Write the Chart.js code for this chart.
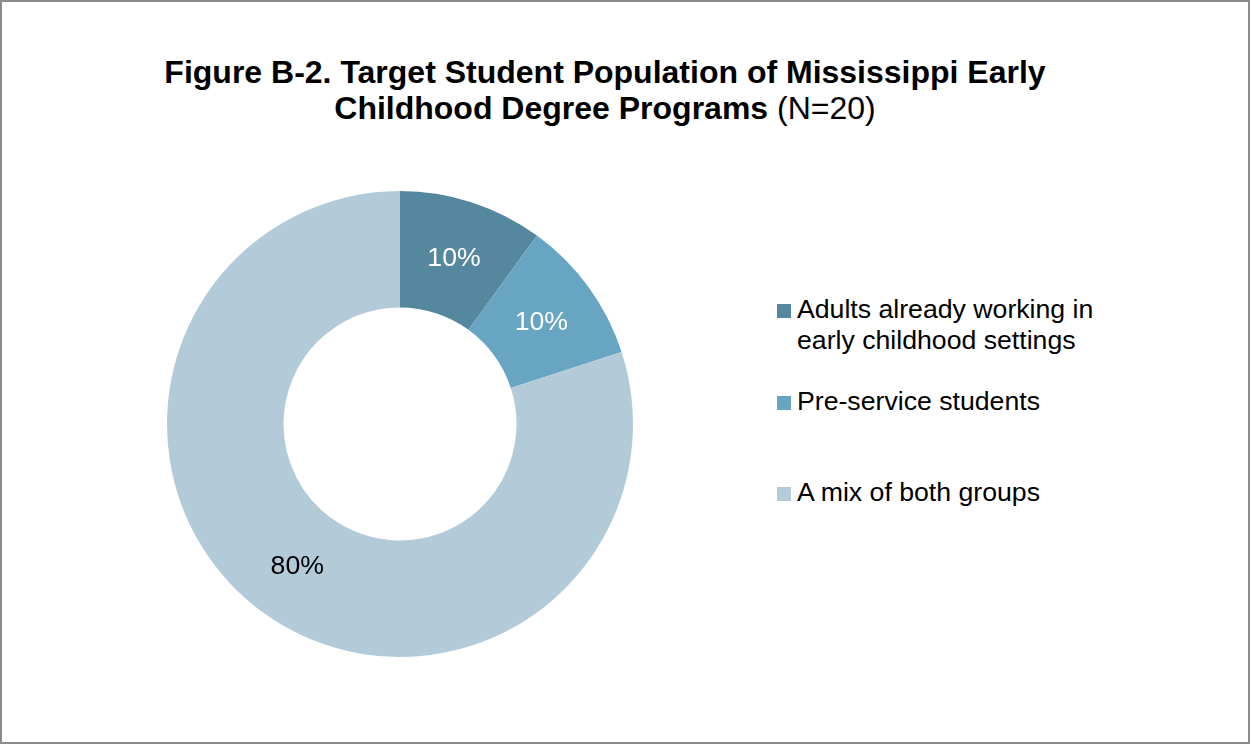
<!DOCTYPE html>
<html>
<head>
<meta charset="utf-8">
<script src="https://cdn.jsdelivr.net/npm/chart.js@4.4.1/dist/chart.umd.min.js"></script>
<style>
  body { margin: 0; background: #fff; font-family: "Liberation Sans", Arial, sans-serif; }
  #frame {
    position: relative; width: 1246px; height: 740px;
    border: 2px solid #8c8c8c; background: #fff; overflow: hidden;
  }
  #title {
    position: absolute; left: 0; width: 1206px; top: 52px;
    text-align: center; font-size: 32px; line-height: 36px; color: #000;
  }
  #title b { font-weight: bold; }
  #pie { position: absolute; left: 165px; top: 189px; width: 466px; height: 466px; }
  .item { position: absolute; left: 775px; font-size: 26.67px; line-height: 31px; color: #000; }
  .item span.box { position: absolute; left: 0; top: 10px; width: 14px; height: 14px; }
  .item span.txt { position: absolute; left: 20px; white-space: nowrap; }
</style>
</head>
<body>
<div id="frame">
  <div id="title"><b>Figure B-2. Target Student Population of Mississippi Early<br>Childhood Degree Programs</b> (N=20)</div>
  <canvas id="pie" width="466" height="466"></canvas>
  <div id="legend"></div>
</div>
<script>
const categories = [
  ["Adults already working in", "early childhood settings"],
  ["Pre-service students"],
  ["A mix of both groups"]
];
const values = [10, 10, 80];
const colors = ["#55879e", "#68a5c2", "#b3cbd8"];
const labelColors = ["#ffffff", "#ffffff", "#000000"];

const sliceLabels = {
  id: "sliceLabels",
  afterDatasetsDraw(chart) {
    const ctx = chart.ctx;
    const meta = chart.getDatasetMeta(0);
    ctx.save();
    ctx.font = "26.67px 'Liberation Sans', Arial, sans-serif";
    ctx.textAlign = "center";
    ctx.textBaseline = "middle";
    meta.data.forEach((arc, i) => {
      const p = arc.getCenterPoint();
      ctx.fillStyle = labelColors[i];
      ctx.fillText(values[i] + "%", p.x, p.y + 1);
    });
    ctx.restore();
  }
};

new Chart(document.getElementById("pie"), {
  type: "doughnut",
  data: {
    labels: categories.map(c => c.join(" ")),
    datasets: [{
      data: values,
      backgroundColor: colors,
      borderWidth: 0
    }]
  },
  options: {
    responsive: false,
    animation: false,
    cutout: "50%",
    plugins: { legend: { display: false }, tooltip: { enabled: false } }
  },
  plugins: [sliceLabels]
});

// legend built from the same arrays
const legend = document.getElementById("legend");
const tops = [292, 384, 475];
categories.forEach((lines, i) => {
  const item = document.createElement("div");
  item.className = "item";
  item.style.top = tops[i] + "px";
  item.innerHTML = '<span class="box" style="background:' + colors[i] + '"></span>' +
    '<span class="txt">' + lines.join("<br>") + '</span>';
  legend.appendChild(item);
});
</script>
</body>
</html>
